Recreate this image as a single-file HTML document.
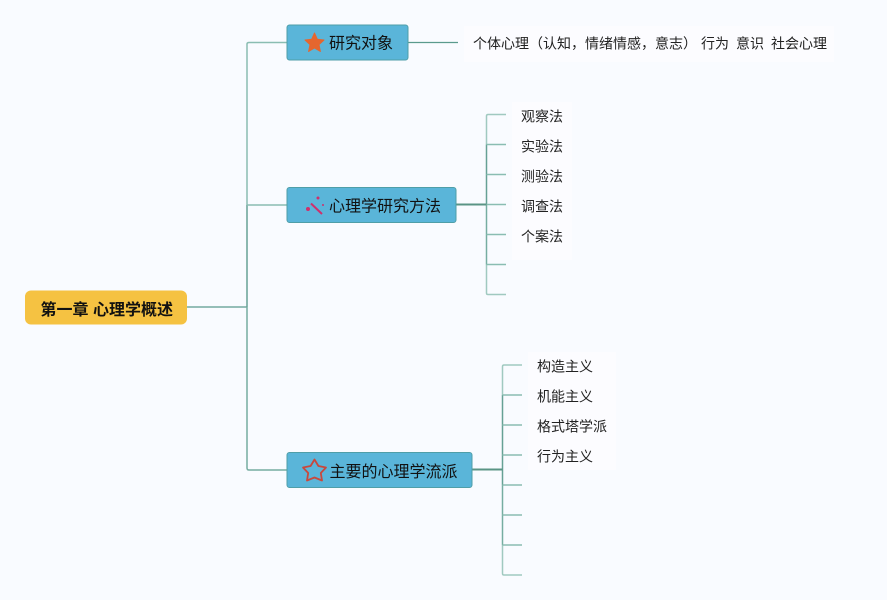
<!DOCTYPE html>
<html><head><meta charset="utf-8"><style>
html,body{margin:0;padding:0;background:#f9fbff}
svg{display:block}
text{font-family:"Liberation Sans","Noto Sans CJK SC",sans-serif;fill:#111}
.s{font-size:14px;fill:#222}
.t{font-size:16px}
</style></head><body>
<svg width="887" height="600" viewBox="0 0 887 600" xmlns="http://www.w3.org/2000/svg">
<rect width="887" height="600" fill="#f9fbff"/>
<g fill="#fcfcff">
<rect x="464" y="26" width="370" height="36"/>
<rect x="512" y="102" width="60" height="158"/>
<rect x="528" y="352" width="88" height="118"/>
</g>
<g fill="none" stroke-width="1.3">
<path d="M187 307H247" stroke="#5a9a8d"/>
<path d="M247 307V205" stroke="#66a195" stroke-width="1.5"/>
<path d="M247 205V44Q247 42.500 249 42.500H287" stroke="#8abdb2" stroke-width="1.5"/>
<path d="M247 205H287" stroke="#8abdb2" stroke-width="1.5"/>
<path d="M247 307V468Q247 470 249 470H287" stroke="#76ad a1" stroke-width="1.5" style="stroke:#76ada1"/>
<path d="M408 42.500H458" stroke="#5a9a8d"/>
<path d="M486.500 144.500V204.500" stroke="#66a195" stroke-width="1.500"/>
<path d="M486.500 204.500V264.500" stroke="#76ada1" stroke-width="1.500"/>
<path d="M486.500 144.500V116Q486.500 114.500 488 114.500H506" stroke="#a0c9c0" stroke-width="1.500"/>
<path d="M486.500 264.500V293Q486.500 294.500 488 294.500H506" stroke="#a0c9c0" stroke-width="1.500"/>
<path d="M486.500 144.500H506M486.500 174.500H506M486.500 204.500H506M486.500 234.500H506M486.500 264.500H506" stroke="#8abdb2" stroke-width="1.5"/>
<path d="M456 204.500H486.500" stroke="#5a9485" stroke-width="2"/>
<path d="M502.500 395V485" stroke="#66a195" stroke-width="1.500"/>
<path d="M502.500 485V545" stroke="#76ada1" stroke-width="1.500"/>
<path d="M502.500 395V366.500Q502.500 365 504 365H522" stroke="#a0c9c0" stroke-width="1.500"/>
<path d="M502.500 545V573.500Q502.500 575 504 575H522" stroke="#a0c9c0" stroke-width="1.500"/>
<path d="M502.500 395H522M502.500 425H522M502.500 455H522M502.500 485H522M502.500 515H522M502.500 545H522" stroke="#8abdb2" stroke-width="1.5"/>
<path d="M472 469.500H502.500" stroke="#5a9485" stroke-width="2"/>
</g>
<rect x="25" y="290.500" width="162" height="34" rx="6" fill="#f5c242"/>
<text x="40.500" y="315" font-size="16" font-weight="700" fill="#000">第一章 心理学概述</text>
<g fill="#5ab5d9" stroke="#4f9ea8" stroke-width="1">
<rect x="287" y="25" width="121" height="35" rx="2.500"/>
<rect x="287" y="187.500" width="169" height="35" rx="2.500"/>
<rect x="287" y="452.500" width="185" height="35" rx="2.500"/>
</g>
<polygon points="314.500,33 317.300,39.200 324,40 319,44.600 320.400,51.500 314.500,48 308.600,51.500 310,44.600 305,40 311.700,39.200" fill="#e5662f" stroke="#e5662f" stroke-linejoin="round"/>
<g fill="#cf2f6c">
<path d="M311 203.500L322 214" fill="none" stroke="#cf2f6c" stroke-width="2"/>
<circle cx="318" cy="198" r="1.500"/>
<circle cx="308" cy="209" r="2"/>
<circle cx="323" cy="205" r="1"/>
</g>
<polygon points="314.500,459.500 318.400,466 326,467.500 320.800,473 322,480.500 314.500,477.500 307,480.500 308.200,473 303,467.500 310.600,466" fill="none" stroke="#c9483c" stroke-width="1.800" stroke-linejoin="round"/>
<text class="t" x="329" y="48.500">研究对象</text>
<text class="t" x="329" y="211.500">心理学研究方法</text>
<text class="t" x="329.500" y="477">主要的心理学流派</text>
<text class="s" x="473" y="48.500">个体心理（认知，情绪情感，意志）</text>
<text class="s" x="701" y="48.500">行为</text>
<text class="s" x="736" y="48.500">意识</text>
<text class="s" x="771" y="48.500">社会心理</text>
<text class="s" x="521" y="121.500">观察法</text>
<text class="s" x="521" y="151.500">实验法</text>
<text class="s" x="521" y="181.500">测验法</text>
<text class="s" x="521" y="211.500">调查法</text>
<text class="s" x="521" y="241.500">个案法</text>
<text class="s" x="537" y="371.500">构造主义</text>
<text class="s" x="537" y="401.500">机能主义</text>
<text class="s" x="537" y="431.500">格式塔学派</text>
<text class="s" x="537" y="461.500">行为主义</text>
</svg>
</body></html>
